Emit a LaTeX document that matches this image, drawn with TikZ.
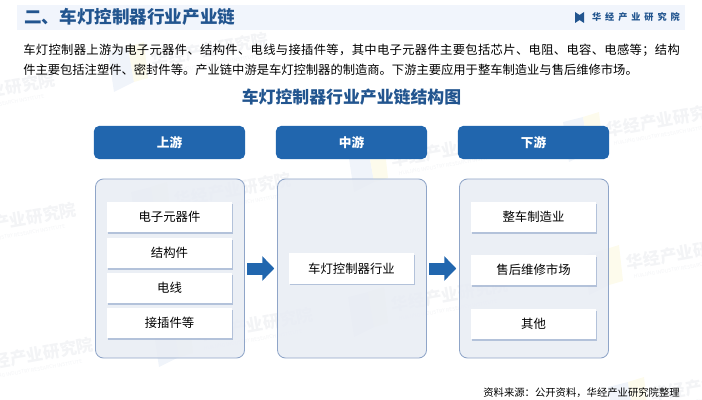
\documentclass[tikz,border=0pt]{standalone}
\usepackage{fontspec}
\setmainfont{Noto Sans CJK SC}
\usetikzlibrary{arrows.meta,shadows}
\definecolor{bandfill}{HTML}{F1F5FC}
\definecolor{titleblue}{HTML}{22558F}
\definecolor{headblue}{HTML}{2166AE}
\definecolor{panelfill}{HTML}{E9EDF4}
\definecolor{panelline}{HTML}{8FA5C8}
\definecolor{markgray}{HTML}{F3F4F6}
\definecolor{markblue}{HTML}{F0F4FA}
\definecolor{markyellow}{HTML}{FDFBEC}

\begin{document}
\begin{tikzpicture}[x=0.025cm,y=-0.025cm,
	mark text/.style={text=markgray,font=\fontsize{12}{12}\selectfont\bfseries,rotate=10,inner sep=0pt},
	mark small/.style={text=markgray,font=\fontsize{3.6}{3.6}\selectfont,rotate=10,inner sep=0pt},
	head/.style={rectangle,rounded corners=0.125cm,fill=headblue,text=white,minimum width=3.775cm,minimum height=0.825cm,font=\fontsize{9}{9}\selectfont\bfseries},
	panel/.style={rectangle,rounded corners=0.2cm,draw=panelline,fill=panelfill,fill opacity=0.9,line width=0.6pt,minimum width=3.725cm,minimum height=4.475cm},
	item/.style={rectangle,fill=white,minimum width=3.125cm,minimum height=0.75cm,font=\fontsize{8.8}{8.8}\selectfont,drop shadow={shadow xshift=0.03cm,shadow yshift=-0.04cm,fill=panelline,opacity=0.6}},
	flow/.style={draw=headblue,line width=0.3cm,-{Triangle[length=0.3cm,width=0.6cm]}}]
	\useasboundingbox (0,0) rectangle (702,400);
	\clip (0,0) rectangle (702,400);

	% watermarks
	\foreach \mx/\my [count=\i] in {210/50,-3/90,233/190,18/220,35/355,255/325,450/150,665/120,685/253,450/295,710/385} {
		\fill[markblue] (\mx-102,\my+2) -- (\mx-82,\my-3) -- (\mx-76,\my+32) -- (\mx-96,\my+42) -- cycle;
		\fill[markyellow] (\mx-82,\my-3) -- (\mx-66,\my-8) -- (\mx-62,\my+28) -- (\mx-76,\my+32) -- cycle;
		\node[mark text] (mark\i) at (\mx,\my) {华经产业研究院};
		\node[mark small] (small\i) at (\mx-2,\my+15) {HUAJING INDUSTRY RESEARCH INSTITUTE};
	}

	% top part
	\fill[bandfill] (17,5) rectangle (685,30);
	\node[anchor=west,inner sep=0pt,text=titleblue,font=\fontsize{12.5}{12.5}\selectfont\bfseries] (title) at (24,17) {二、车灯控制器行业产业链};
	\fill[titleblue] (575,12) -- (579.5,15) -- (584,12) -- (584,23) -- (579.5,20) -- (575,23) -- cycle;
	\node[anchor=east,inner sep=0pt,text=titleblue,font=\fontsize{6.5}{6.5}\selectfont\bfseries] (brand) at (680,17) {\addfontfeature{LetterSpace=43}华经产业研究院};
	\node[anchor=west,inner sep=0pt,font=\fontsize{8.74}{8.74}\selectfont] (line1) at (23,50) {\addfontfeature{LetterSpace=2.8}车灯控制器上游为电子元器件、结构件、电线与接插件等，其中电子元器件主要包括芯片、电阻、电容、电感等；结构};
	\node[anchor=west,inner sep=0pt,font=\fontsize{8.74}{8.74}\selectfont] (line2) at (23,70) {件主要包括注塑件、密封件等。产业链中游是车灯控制器的制造商。下游主要应用于整车制造业与售后维修市场。};
	\node[text=titleblue,font=\fontsize{12}{12}\selectfont\bfseries] (charttitle) at (351.5,97) {车灯控制器行业产业链结构图};

	% three columns
	\node[head] (headup) at (169.5,142.5) {上游};
	\node[head] (headmid) at (351.5,142.5) {中游};
	\node[head] (headdown) at (533.5,142.5) {下游};
	\node[panel] (up) at (170,268.5) {};
	\node[panel] (mid) at (352,268.5) {};
	\node[panel] (down) at (534,268.5) {};

	\node[item] (parts) at (169.5,217) {电子元器件};
	\node[item] (struct) at (169.5,253) {结构件};
	\node[item] (wire) at (169.5,288) {电线};
	\node[item] (plug) at (169.5,323) {接插件等};
	\node[item] (maker) at (351.5,268.5) {车灯控制器行业};
	\node[item] (car) at (533.5,217) {整车制造业};
	\node[item] (repair) at (533.5,270) {售后维修市场};
	\node[item] (other) at (533.5,324) {其他};

	\draw[flow,shorten <=0.06cm,shorten >=0.07cm] (up) -- (mid);
	\draw[flow,shorten <=0.06cm,shorten >=0.07cm] (mid) -- (down);

	\node[anchor=east,inner sep=0pt,font=\fontsize{7.35}{7.35}\selectfont] (source) at (680,393) {资料来源：公开资料，华经产业研究院整理};
\end{tikzpicture}
\end{document}
